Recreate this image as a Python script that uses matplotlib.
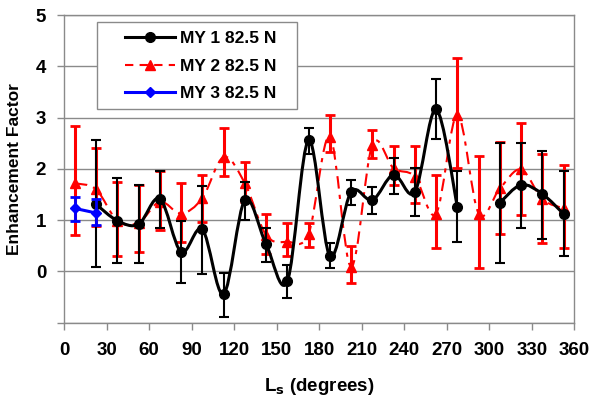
import numpy as np
import matplotlib
matplotlib.use("Agg")
import matplotlib.pyplot as plt
from matplotlib.path import Path
from matplotlib.patches import PathPatch, Rectangle
from matplotlib.lines import Line2D

nan = np.nan
ls = [7.5, 22.5, 37.5, 52.5, 67.5, 82.5, 97.5, 112.5, 127.5, 142.5, 157.5, 172.5,
      187.5, 202.5, 217.5, 232.5, 247.5, 262.5, 277.5, 292.5, 307.5, 322.5, 337.5, 352.5]

my1 = [nan, 1.31, 0.99, 0.92, 1.42, 0.38, 0.82, -0.44, 1.39, 0.53, -0.19, 2.56,
       0.30, 1.55, 1.39, 1.89, 1.55, 3.16, 1.26, nan, 1.34, 1.69, 1.51, 1.12]
my1_hi = [nan, 2.56, 1.83, 1.68, 1.95, 0.98, 1.67, -0.03, 1.75, 0.85, 0.12, 2.79,
          0.55, 1.78, 1.65, 2.21, 2.01, 3.75, 1.95, nan, 2.50, 2.50, 2.35, 1.95]
my1_lo = [nan, 0.08, 0.16, 0.16, 0.85, -0.22, -0.05, -0.89, 1.00, 0.19, -0.51, 2.30,
          0.06, 1.29, 1.12, 1.51, 1.08, 2.58, 0.58, nan, 0.17, 0.84, 0.64, 0.30]

my2 = [1.72, 1.60, 0.99, 0.95, 1.36, 1.13, 1.43, 2.23, 1.72, 0.71, 0.58, 0.74,
       2.63, 0.09, 2.47, 2.01, 1.85, 1.13, 3.05, 1.13, 1.62, 1.99, 1.41, 1.23]
my2_hi = [2.84, 2.40, 1.75, 1.69, 1.95, 1.73, 1.88, 2.79, 2.13, 1.12, 0.94, 0.95,
          3.05, 0.49, 2.76, 2.45, 2.45, 1.88, 4.16, 2.25, 2.53, 2.89, 2.30, 2.08]
my2_lo = [0.71, 0.88, 0.30, 0.37, 0.81, 0.58, 0.97, 1.86, 1.35, 0.35, 0.30, 0.47,
          2.32, -0.22, 2.21, 1.69, 1.33, 0.45, 2.01, 0.06, 0.74, 1.10, 0.55, 0.45]

ls3 = [7.5, 22.5]
my3 = [1.23, 1.14]
my3_hi = [1.46, 1.41]
my3_lo = [0.99, 0.90]

labels = ["MY 1 82.5 N", "MY 2 82.5 N", "MY 3 82.5 N"]
xticks = [0, 30, 60, 90, 120, 150, 180, 210, 240, 270, 300, 330, 360]
yticks = [-1, 0, 1, 2, 3, 4, 5]
ytick_labels = ["", "0", "1", "2", "3", "4", "5"]

plt.rcParams['font.family'] = ['Liberation Sans', 'DejaVu Sans']
plt.rcParams['font.weight'] = 'bold'


def _add(seg, verts, codes):
    p = np.array(seg)
    n = len(p)
    verts.append(tuple(p[0]))
    codes.append(Path.MOVETO)
    for i in range(n - 1):
        p0 = p[i - 1] if i > 0 else p[i]
        p1 = p[i]
        p2 = p[i + 1]
        p3 = p[i + 2] if i + 2 < n else p[i + 1]
        c1 = p1 + (p2 - p0) / 6.0
        c2 = p2 - (p3 - p1) / 6.0
        verts += [tuple(c1), tuple(c2), tuple(p2)]
        codes += [Path.CURVE4] * 3


def smooth_path(x, y):
    """Smoothed (Bezier) path through the data points, broken at NaNs."""
    verts, codes, seg = [], [], []
    for xi, yi in zip(x, y):
        if np.isnan(yi):
            if seg:
                _add(seg, verts, codes)
            seg = []
        else:
            seg.append((xi, yi))
    if seg:
        _add(seg, verts, codes)
    return Path(verts, codes)


fig = plt.figure(figsize=(5.89, 3.96), dpi=100)
ax = fig.add_axes([0.109, 0.185, 0.866, 0.777])

ax.set_xlim(0, 360)
ax.set_ylim(-1, 5)
ax.set_yticks(yticks)
ax.set_yticklabels(ytick_labels)
ax.set_xticks(xticks)
ax.grid(axis='y', color='#8a8a8a', lw=1.0)
ax.set_axisbelow(True)
for s in ax.spines.values():
    s.set_color('#8a8a8a')
    s.set_linewidth(1.0)
ax.tick_params(axis='both', direction='out', length=5, width=1, color='#8a8a8a',
               labelsize=13.5)
ax.tick_params(axis='x', pad=9)
ax.tick_params(axis='y', pad=8)
for lab in ax.get_xticklabels() + ax.get_yticklabels():
    lab.set_fontweight('bold')

red = '#ff0000'
blue = '#0000ff'


def yerr(v, hi, lo):
    v = np.asarray(v, float)
    return [v - np.asarray(lo, float), np.asarray(hi, float) - v]


# MY2 (red)
ax.errorbar(ls, my2, yerr=yerr(my2, my2_hi, my2_lo), fmt='none', ecolor=red,
            elinewidth=2.2, capsize=3.5, capthick=2, zorder=3)
ax.add_patch(PathPatch(smooth_path(ls, my2), fill=False, ec=red, lw=1.5,
                       linestyle=(0, (6, 3, 2, 3)), zorder=3))
ax.plot(ls, my2, ls='none', marker='^', ms=7, color=red, zorder=4)

# MY1 (black)
ax.errorbar(ls, my1, yerr=yerr(my1, my1_hi, my1_lo), fmt='none', ecolor='black',
            elinewidth=1.5, capsize=3.5, capthick=1.5, zorder=5)
ax.add_patch(PathPatch(smooth_path(ls, my1), fill=False, ec='black', lw=2.2, zorder=5))
ax.plot(ls, my1, ls='none', marker='o', ms=7, color='black', zorder=6)

# MY3 (blue)
ax.errorbar(ls3, my3, yerr=yerr(my3, my3_hi, my3_lo), fmt='none', ecolor=blue,
            elinewidth=2, capsize=3.5, capthick=2, zorder=7)
ax.plot(ls3, my3, ls='-', lw=2.2, marker='D', ms=5.5, color=blue, zorder=8)

# legend frame (drawn separately to match the wide padding)
ax.add_patch(Rectangle((0.064, 0.6945), 0.392, 0.2825, transform=ax.transAxes,
                       facecolor='white', edgecolor='#8a8a8a', lw=1.0, zorder=9))
handles = [
    Line2D([], [], color='black', lw=2.2, marker='o', ms=7),
    Line2D([], [], color=red, lw=1.5, ls=(0, (4, 3)), marker='^', ms=7),
    Line2D([], [], color=blue, lw=2.2, marker='D', ms=5.5),
]
leg = ax.legend(handles, labels, loc='center left', bbox_to_anchor=(0.119, 0.834),
                borderaxespad=0, borderpad=0, frameon=False,
                prop={'weight': 'bold', 'size': 12.5}, handlelength=2.9,
                handletextpad=0.25, labelspacing=0.7)
leg.set_zorder(10)

ax.set_xlabel(r'L$_\mathbf{s}$ (degrees)', fontsize=13.5, fontweight='bold', labelpad=12)
ax.set_ylabel('Enhancement Factor', fontsize=12.5, fontweight='bold', labelpad=10)

fig.savefig('out.png', dpi=100)
